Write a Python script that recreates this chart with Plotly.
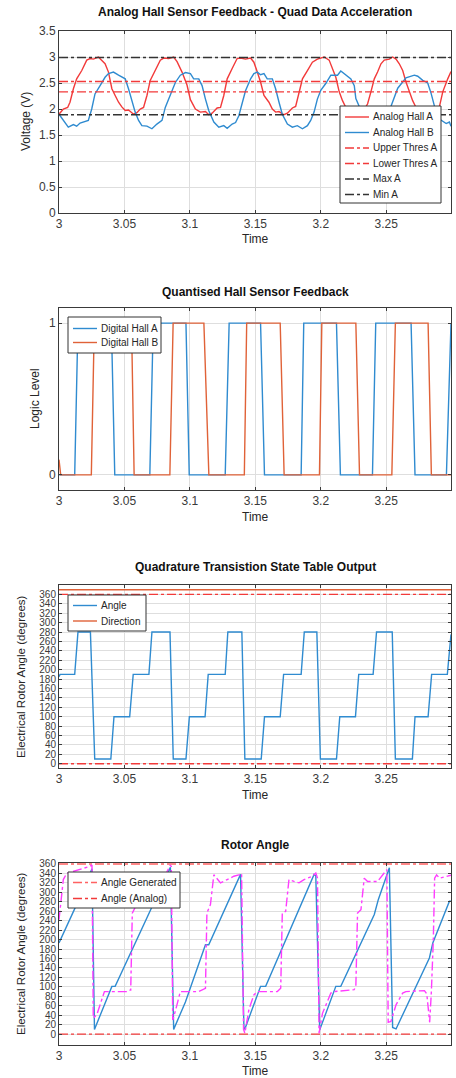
import plotly.graph_objects as go

FONT = "Liberation Sans"
TXT = "#262626"

# ---------------- data ----------------
time_range = [3.0, 3.2995]
x_tick_vals = [3.0, 3.05, 3.1, 3.15, 3.2, 3.25]
x_tick_text = ["3", "3.05", "3.1", "3.15", "3.2", "3.25"]

# Plot 1: analog hall signals
t_hall_a = [3.0000, 3.0033, 3.0066, 3.0084, 3.0110, 3.0135, 3.0174, 3.0212, 3.0238, 3.0263,
            3.0301, 3.0327, 3.0352, 3.0378, 3.0404, 3.0429, 3.0455, 3.0480, 3.0506, 3.0531,
            3.0570, 3.0595, 3.0621, 3.0646, 3.0672, 3.0697, 3.0736, 3.0774, 3.0800, 3.0838,
            3.0876, 3.0902, 3.0940, 3.0978, 3.1004, 3.1042, 3.1080, 3.1119, 3.1144, 3.1170,
            3.1208, 3.1234, 3.1259, 3.1285, 3.1323, 3.1361, 3.1387, 3.1425, 3.1464, 3.1489,
            3.1515, 3.1540, 3.1566, 3.1604, 3.1630, 3.1655, 3.1681, 3.1719, 3.1745, 3.1783,
            3.1808, 3.1834, 3.1860, 3.1898, 3.1936, 3.1974, 3.2000, 3.2026, 3.2064, 3.2089,
            3.2115, 3.2141, 3.2166, 3.2192, 3.2230, 3.2270, 3.2310, 3.2340, 3.2358, 3.2383,
            3.2409, 3.2434, 3.2460, 3.2485, 3.2524, 3.2549, 3.2575, 3.2600, 3.2626, 3.2651,
            3.2677, 3.2702, 3.2728, 3.2780, 3.2830, 3.2870, 3.2907, 3.2932, 3.2970, 3.2995]
v_hall_a = [1.90, 2.00, 2.03, 2.13, 2.39, 2.58, 2.74, 2.94, 2.97, 2.96,
            3.00, 2.94, 2.87, 2.71, 2.39, 2.26, 2.13, 2.04, 1.97, 1.98,
            1.90, 1.93, 2.00, 2.03, 2.26, 2.55, 2.74, 2.94, 2.98, 2.97,
            3.00, 2.91, 2.71, 2.46, 2.18, 2.00, 1.94, 1.95, 1.89, 1.92,
            2.02, 2.03, 2.26, 2.58, 2.78, 2.97, 2.98, 2.96, 2.98, 2.90,
            2.71, 2.52, 2.26, 2.13, 2.00, 1.94, 1.95, 1.89, 1.92, 2.02,
            2.05, 2.33, 2.58, 2.74, 2.90, 2.96, 2.98, 3.00, 2.94, 2.78,
            2.61, 2.33, 2.16, 2.03, 1.95, 1.90, 1.93, 2.02, 2.10, 2.33,
            2.58, 2.71, 2.87, 2.94, 2.96, 3.00, 2.96, 2.87, 2.74, 2.52,
            2.33, 2.16, 2.03, 1.95, 1.90, 1.95, 2.05, 2.33, 2.58, 2.72]

t_hall_b = [3.0000, 3.0033, 3.0071, 3.0110, 3.0135, 3.0161, 3.0186, 3.0224, 3.0250, 3.0275,
            3.0314, 3.0352, 3.0378, 3.0416, 3.0455, 3.0480, 3.0506, 3.0531, 3.0557, 3.0582,
            3.0608, 3.0633, 3.0672, 3.0710, 3.0748, 3.0787, 3.0812, 3.0851, 3.0889, 3.0927,
            3.0966, 3.1004, 3.1029, 3.1068, 3.1093, 3.1119, 3.1144, 3.1183, 3.1221, 3.1259,
            3.1285, 3.1323, 3.1349, 3.1374, 3.1400, 3.1425, 3.1464, 3.1489, 3.1515, 3.1540,
            3.1566, 3.1591, 3.1630, 3.1655, 3.1681, 3.1706, 3.1745, 3.1783, 3.1821, 3.1860,
            3.1898, 3.1923, 3.1949, 3.1974, 3.2000, 3.2038, 3.2077, 3.2128, 3.2153, 3.2192,
            3.2230, 3.2256, 3.2268, 3.2294, 3.2330, 3.2380, 3.2430, 3.2480, 3.2510, 3.2536,
            3.2588, 3.2651, 3.2715, 3.2741, 3.2779, 3.2817, 3.2843, 3.2869, 3.2910, 3.2958,
            3.2983, 3.2995]
v_hall_b = [1.90, 1.78, 1.65, 1.70, 1.67, 1.73, 1.75, 1.78, 2.00, 2.29,
            2.45, 2.61, 2.68, 2.71, 2.65, 2.61, 2.58, 2.39, 2.17, 1.94,
            1.78, 1.68, 1.67, 1.62, 1.71, 1.78, 2.03, 2.26, 2.51, 2.65,
            2.70, 2.68, 2.58, 2.58, 2.45, 2.19, 1.97, 1.75, 1.65, 1.68,
            1.63, 1.71, 1.74, 1.87, 2.13, 2.35, 2.58, 2.68, 2.71, 2.66,
            2.68, 2.58, 2.58, 2.39, 2.13, 1.90, 1.71, 1.65, 1.68, 1.62,
            1.68, 1.78, 1.94, 2.19, 2.36, 2.49, 2.65, 2.65, 2.73, 2.65,
            2.58, 2.45, 2.20, 2.05, 1.80, 1.65, 1.68, 1.70, 1.85, 2.05,
            2.40, 2.60, 2.65, 2.63, 2.55, 2.50, 2.30, 2.05, 1.80, 1.72,
            1.75, 1.67]

upper_thres_a = 2.53
lower_thres_a = 2.33
max_a = 2.99
min_a = 1.89

# Plot 2: quantised hall signals
t_dig_a = [3.0, 3.012, 3.0145, 3.040, 3.0426, 3.0694, 3.072, 3.097, 3.0995, 3.127, 3.130,
           3.154, 3.157, 3.185, 3.187, 3.212, 3.215, 3.2395, 3.242, 3.269, 3.272, 3.296, 3.2995]
v_dig_a = [0, 0, 1, 1, 0, 0, 1, 1, 0, 0, 1,
           1, 0, 0, 1, 1, 0, 0, 1, 1, 0, 0, 1]
t_dig_b = [3.0, 3.0013, 3.0247, 3.027, 3.0554, 3.0574, 3.0847, 3.0872, 3.1107, 3.1145,
           3.1416, 3.1434, 3.169, 3.172, 3.199, 3.2008, 3.2268, 3.2296, 3.2543, 3.257,
           3.282, 3.2845, 3.2995]
v_dig_b = [0.1, 0, 0, 1, 1, 0, 0, 1, 1, 0,
           0, 1, 1, 0, 0, 1, 1, 0, 0, 1,
           1, 0, 0]

# Plot 3: state table angle
t_state = [3.0, 3.0008, 3.012, 3.0145, 3.024, 3.0273, 3.0396, 3.042, 3.054, 3.0567,
           3.0687, 3.071, 3.0848, 3.0873, 3.097, 3.0996, 3.1116, 3.114, 3.127, 3.129,
           3.1397, 3.142, 3.1545, 3.157, 3.169, 3.1716, 3.185, 3.1874, 3.197, 3.1997,
           3.212, 3.2145, 3.2265, 3.229, 3.240, 3.2426, 3.2546, 3.257, 3.270, 3.272,
           3.282, 3.2847, 3.2967, 3.2995]
angle_state = [185, 190, 190, 280, 280, 10, 10, 100, 100, 190,
               190, 280, 280, 10, 10, 100, 100, 190, 190, 280,
               280, 10, 10, 100, 100, 190, 190, 280, 280, 10,
               10, 100, 100, 190, 190, 280, 280, 10, 10, 100,
               100, 190, 190, 275]
direction_level = 370
angle_limits = [0, 360]

# Plot 4: rotor angle
t_gen = [3.0000, 3.0123, 3.0252, 3.0271, 3.0404, 3.0429, 3.0851, 3.0876, 3.0966, 3.1119,
         3.1144, 3.1387, 3.1413, 3.1420, 3.1540, 3.1579, 3.1949, 3.1962, 3.1992, 3.2115,
         3.2153, 3.2409, 3.2440, 3.2524, 3.2549, 3.2575, 3.2830, 3.2856, 3.2983, 3.2995]
angle_gen = [193, 267, 350, 10, 101, 101, 353, 10, 68, 189,
             189, 338, 12, 11, 101, 101, 338, 335, 9, 101,
             101, 253, 285, 352, 14, 11, 161, 193, 281, 281]

t_analog = [3.0000, 3.0033, 3.0059, 3.0120, 3.0237, 3.0252, 3.0262, 3.0289, 3.0314, 3.0347,
            3.0519, 3.0535, 3.0548, 3.0560, 3.0585, 3.0620, 3.0660, 3.0720, 3.0800, 3.0849,
            3.0858, 3.0869, 3.0890, 3.0927, 3.1068, 3.1100, 3.1119, 3.1130, 3.1157, 3.1183,
            3.1209, 3.1234, 3.1285, 3.1336, 3.1374, 3.1395, 3.1410, 3.1420, 3.1451, 3.1489,
            3.1515, 3.1668, 3.1694, 3.1706, 3.1732, 3.1757, 3.1796, 3.1834, 3.1872, 3.1936,
            3.1962, 3.1975, 3.1987, 3.2013, 3.2077, 3.2102, 3.2255, 3.2268, 3.2281, 3.2307,
            3.2332, 3.2358, 3.2434, 3.2473, 3.2505, 3.2515, 3.2536, 3.2575, 3.2626, 3.2650,
            3.2792, 3.2810, 3.2832, 3.2845, 3.2860, 3.2870, 3.2885, 3.2907, 3.2958, 3.2995]
angle_analog = [242, 327, 340, 345, 355, 358, 34, 41, 62, 90,
                90, 93, 93, 256, 270, 300, 320, 325, 330, 357,
                355, 30, 50, 90, 90, 95, 97, 256, 274, 337,
                327, 320, 327, 334, 337, 340, 10, 2, 52, 83,
                90, 90, 97, 256, 260, 327, 323, 320, 327, 334,
                341, 330, 2, 44, 87, 90, 94, 101, 256, 263,
                330, 323, 323, 337, 348, 25, 27, 62, 87, 90,
                92, 85, 25, 90, 200, 330, 337, 330, 333, 336]

# legend labels per panel
legend1_labels = ["Analog Hall A", "Analog Hall B", "Upper Thres A", "Lower Thres A", "Max A", "Min A"]
legend2_labels = ["Digital Hall A", "Digital Hall B"]
legend3_labels = ["Angle", "Direction"]
legend4_labels = ["Angle Generated", "Angle (Analog)"]

# ---------------- styling ----------------
BLUE = "#2f8bd0"
ORANGE = "#e06238"
RED = "#f23a3a"
RED_LIGHT = "#ff6262"
MAG = "#ff3cff"
DARK = "#333333"

fig = go.Figure()

def add(x, y, ax, name, color, dash="solid", width=1.4):
    fig.add_trace(go.Scatter(
        x=x, y=y, mode="lines", name=name, showlegend=False, hoverinfo="skip",
        line=dict(color=color, dash=dash, width=width),
        xaxis="x" + ax, yaxis="y" + ax,
    ))

# Plot 1
add(t_hall_a, v_hall_a, "", legend1_labels[0], RED)
add(t_hall_b, v_hall_b, "", legend1_labels[1], BLUE)
add(time_range, [upper_thres_a] * 2, "", legend1_labels[2], RED, "dashdot")
add(time_range, [lower_thres_a] * 2, "", legend1_labels[3], RED, "dashdot")
add(time_range, [max_a] * 2, "", legend1_labels[4], DARK, "dashdot")
add(time_range, [min_a] * 2, "", legend1_labels[5], DARK, "dashdot")

# Plot 2
add(t_dig_a, v_dig_a, "2", legend2_labels[0], BLUE)
add(t_dig_b, v_dig_b, "2", legend2_labels[1], ORANGE)

# Plot 3
add(t_state, angle_state, "3", legend3_labels[0], BLUE)
add(time_range, [direction_level] * 2, "3", legend3_labels[1], ORANGE)
add(time_range, [angle_limits[1]] * 2, "3", "Max", RED, "dashdot")
add(time_range, [angle_limits[0]] * 2, "3", "Min", RED, "dashdot")

# Plot 4
add(time_range, [angle_limits[1]] * 2, "4", legend4_labels[0], RED_LIGHT, "dashdot")
add(time_range, [angle_limits[0]] * 2, "4", legend4_labels[1], RED, "dashdot")
add(t_gen, angle_gen, "4", "Generated", BLUE)
add(t_analog, angle_analog, "4", "Analog", MAG, "dashdot")

H = 1078.0
L, R = 59.0, 451.0
def py(px):
    return 1 - px / H
def pxx(px):
    return (px - L) / (R - L)

boxes = {"": (31, 213), "2": (308, 490), "3": (585, 768), "4": (863, 1045)}
y_setups = {
    "": dict(range=[0, 3.5], tickvals=[0, 0.5, 1, 1.5, 2, 2.5, 3, 3.5],
             ticktext=["0", "0.5", "1", "1.5", "2", "2.5", "3", "3.5"]),
    "2": dict(range=[-0.1, 1.1], tickvals=[0, 1], ticktext=["0", "1"]),
    "3": dict(range=[-9, 380], tickvals=list(range(0, 361, 20)),
              ticktext=[str(v) for v in range(0, 361, 20)]),
    "4": dict(range=[-23, 362], tickvals=list(range(0, 361, 20)),
              ticktext=[str(v) for v in range(0, 361, 20)]),
}
axis_common = dict(showline=True, linecolor="#3a3a3a", linewidth=1, mirror="ticks",
                   ticks="inside", ticklen=3, tickcolor="#3a3a3a", showgrid=True,
                   gridcolor="#dedede", gridwidth=1, zeroline=False, automargin=False,
                   tickfont=dict(family=FONT, size=12, color="#3a3a3a"))

layout = dict(width=456, height=1078, margin=dict(l=59, r=5, t=0, b=0, autoexpand=False),
              paper_bgcolor="white", plot_bgcolor="white", hovermode=False,
              font=dict(family=FONT, color=TXT), showlegend=False)

for ax, (top, bot) in boxes.items():
    xa = dict(axis_common, range=time_range, tickvals=x_tick_vals, ticktext=x_tick_text,
              anchor="y" + ax, domain=[0, 1])
    ya = dict(axis_common, anchor="x" + ax, domain=[py(bot), py(top)], **y_setups[ax])
    if ax in ("3", "4"):
        ya["tickfont"] = dict(family=FONT, size=10, color="#3a3a3a")
    layout["xaxis" + ax] = xa
    layout["yaxis" + ax] = ya

# ---------- hand-built legends (boxes, line samples, labels) ----------
shapes = []
ann = []

def legend(box, rows, labels, styles, line_x, text_x):
    x0, x1, y0, y1 = box
    shapes.append(dict(type="rect", xref="paper", yref="paper", layer="above",
                       x0=pxx(x0), x1=pxx(x1), y0=py(y1), y1=py(y0),
                       fillcolor="white", line=dict(color="#333333", width=1)))
    for ypx, lab, (col, dash) in zip(rows, labels, styles):
        shapes.append(dict(type="line", xref="paper", yref="paper", layer="above",
                           x0=pxx(line_x[0]), x1=pxx(line_x[1]), y0=py(ypx), y1=py(ypx),
                           line=dict(color=col, width=1.4, dash=dash)))
        ann.append(dict(text=lab, x=pxx(text_x), y=py(ypx), xref="paper", yref="paper",
                        showarrow=False, xanchor="left", yanchor="middle",
                        font=dict(family=FONT, size=10, color=TXT)))

legend((340, 441, 106, 203), [117, 132.5, 148, 163.5, 179, 194.5], legend1_labels,
       [(RED, "solid"), (BLUE, "solid"), (RED, "dashdot"), (RED, "dashdot"),
        (DARK, "dashdot"), (DARK, "dashdot")], (345, 369), 371)
legend((68, 161, 317, 353), [328.5, 342.5], legend2_labels,
       [(BLUE, "solid"), (ORANGE, "solid")], (73, 97), 99)
legend((68, 146, 595, 631), [605.5, 621], legend3_labels,
       [(BLUE, "solid"), (ORANGE, "solid")], (73, 97), 99)
legend((68, 180, 872, 908), [882.5, 898.5], legend4_labels,
       [(RED_LIGHT, "dashdot"), (RED, "dashdot")], (73, 97), 99)

titles = [("Analog Hall Sensor Feedback - Quad Data Acceleration", 12),
          ("Quantised Hall Sensor Feedback", 292),
          ("Quadrature Transistion State Table Output", 567),
          ("Rotor Angle", 845)]
for txt, ypx in titles:
    ann.append(dict(text="<b>" + txt + "</b>", x=pxx(255), y=py(ypx), xref="paper", yref="paper",
                    showarrow=False, xanchor="center", yanchor="middle",
                    font=dict(family=FONT, size=12, color="#111111")))
for ypx in (239, 517, 795, 1071):
    ann.append(dict(text="Time", x=pxx(255), y=py(ypx), xref="paper", yref="paper",
                    showarrow=False, xanchor="center", yanchor="middle",
                    font=dict(family=FONT, size=12, color=TXT)))
ylabels = [("Voltage (V)", 26, 122, 12), ("Logic Level", 35, 399, 12),
           ("Electrical Rotor Angle (degrees)", 21, 677, 11.5),
           ("Electrical Rotor Angle (degrees)", 21, 954, 11.5)]
for txt, xpx, ypx, fs in ylabels:
    ann.append(dict(text=txt, x=pxx(xpx), y=py(ypx), xref="paper", yref="paper",
                    showarrow=False, xanchor="center", yanchor="middle", textangle=-90,
                    font=dict(family=FONT, size=fs, color=TXT)))

layout["shapes"] = shapes
layout["annotations"] = ann

fig.update_layout(**layout)
fig.write_html(
    "out.html",
    config={"displayModeBar": False, "staticPlot": True},
    post_script="document.body.style.margin='0';document.body.style.overflow='hidden';",
)
